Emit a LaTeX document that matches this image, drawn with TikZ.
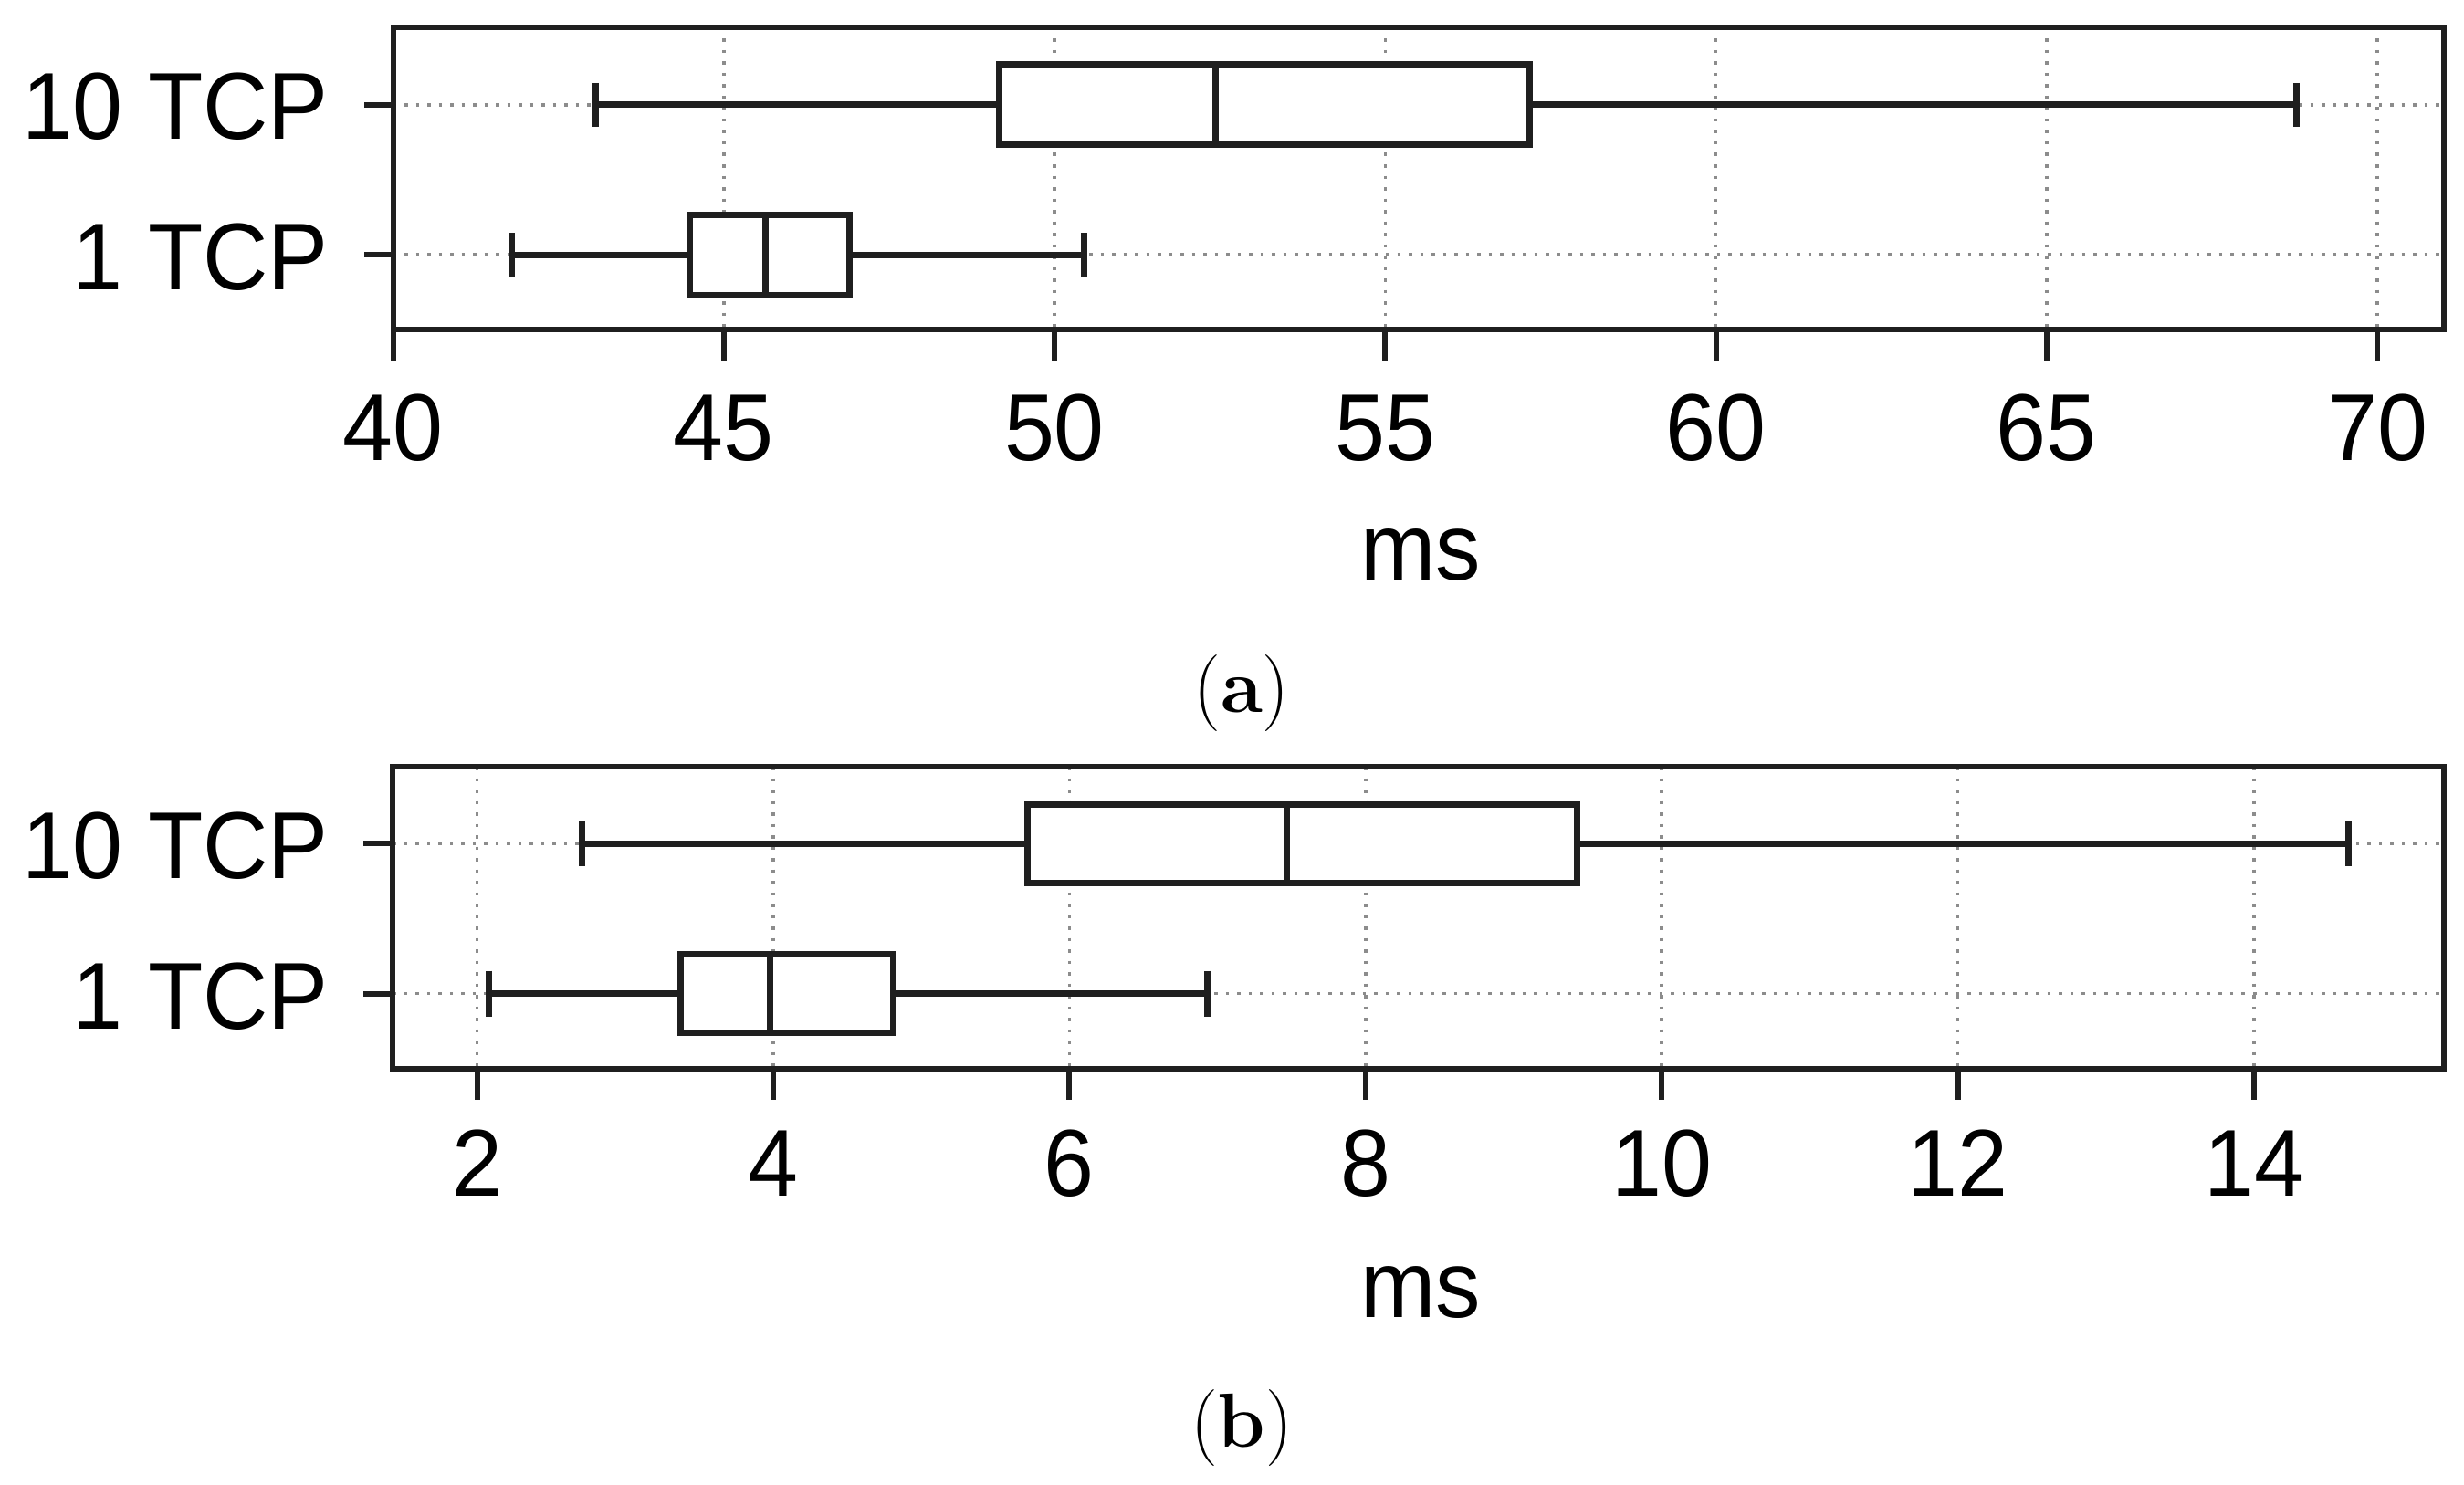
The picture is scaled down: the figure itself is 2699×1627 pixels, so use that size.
\documentclass[tikz,border=0pt]{standalone}
\usepackage{fontspec}
\newfontfamily\chartfont[FakeStretch=0.95]{Liberation Sans}
\newcommand\bplot[8]{%
  \draw[wk] (#4,#1) -- (#5,#1);
  \draw[wk] (#7,#1) -- (#8,#1);
  \draw[wk] (#4,#1-#3) -- (#4,#1+#3);
  \draw[wk] (#8,#1-#3) -- (#8,#1+#3);
  \draw[bx] (#5,#1-#2) rectangle (#7,#1+#2);
  \draw[wk] (#6,#1-#2) -- (#6,#1+#2);}
\begin{document}
\begin{tikzpicture}[x=1pt,y=-1pt,
  frm/.style={line width=6pt, draw=black!88},
  bx/.style={line width=7pt, draw=black!88, fill=white},
  wk/.style={line width=7pt, draw=black!88},
  grd/.style={line width=3.5pt, draw=black!45, dash pattern=on 3.5pt off 9pt},
  tk/.style={line width=6pt, draw=black!88},
  lab/.style={font=\chartfont\fontsize{104}{120}\selectfont, inner sep=0pt},
  capt/.style={font=\fontsize{84}{100}\selectfont, inner sep=0pt}]
\useasboundingbox (0,0) rectangle (2699,1627);
% ---------- panel (a)
\begin{scope}[x=72.45pt, xshift=-2467.5pt]
  \foreach \v in {45,50,...,70} \draw[grd] (\v,30) -- (\v,361);
  \draw[grd] (40,114.8) -- (71.01,114.8);
  \draw[grd] (40,279) -- (71.01,279);
  \bplot{114.8}{44}{24}{43.06}{49.16}{52.43}{57.19}{68.78}
  \bplot{279}{44}{24}{41.79}{44.49}{45.63}{46.90}{50.45}
  \draw[frm] (40,30) rectangle (71.01,361);
  \draw[tk] (40,114.8) -- ++(-32pt,0);
  \draw[tk] (40,279) -- ++(-32pt,0);
  \foreach \v in {40,45,...,70} {
    \draw[tk] (\v,361) -- (\v,395);
    \node[lab, anchor=base] (ta\v) at (\v,504) {\v};
  }
\end{scope}
\node[lab, anchor=base east] (ya10) at (360,153) {10 TCP};
\node[lab, anchor=base east] (ya1) at (360,317) {1 TCP};
\node[lab, anchor=base] (msa) at (1556,635) {ms};
\node[capt] (capa) at (1360,760) {(\textbf{a})};
% ---------- panel (b)
\begin{scope}[x=162.2pt, xshift=198.2pt]
  \foreach \v in {2,4,...,14} \draw[grd] (\v,840) -- (\v,1171);
  \draw[grd] (1.432,924) -- (15.283,924);
  \draw[grd] (1.432,1088.5) -- (15.283,1088.5);
  \bplot{924}{43}{25}{2.706}{5.72}{7.47}{9.43}{14.64}
  \bplot{1088.5}{43}{25}{2.08}{3.375}{3.98}{4.81}{6.93}
  \draw[frm] (1.432,840) rectangle (15.283,1171);
  \draw[tk] (1.432,924) -- ++(-32pt,0);
  \draw[tk] (1.432,1088.5) -- ++(-32pt,0);
  \foreach \v in {2,4,...,14} {
    \draw[tk] (\v,1171) -- (\v,1205);
    \node[lab, anchor=base] (tb\v) at (\v,1310) {\v};
  }
\end{scope}
\node[lab, anchor=base east] (yb10) at (360,962) {10 TCP};
\node[lab, anchor=base east] (yb1) at (360,1127) {1 TCP};
\node[lab, anchor=base] (msb) at (1556,1443) {ms};
\node[capt] (capb) at (1360,1565) {(\textbf{b})};
\end{tikzpicture}
\end{document}
